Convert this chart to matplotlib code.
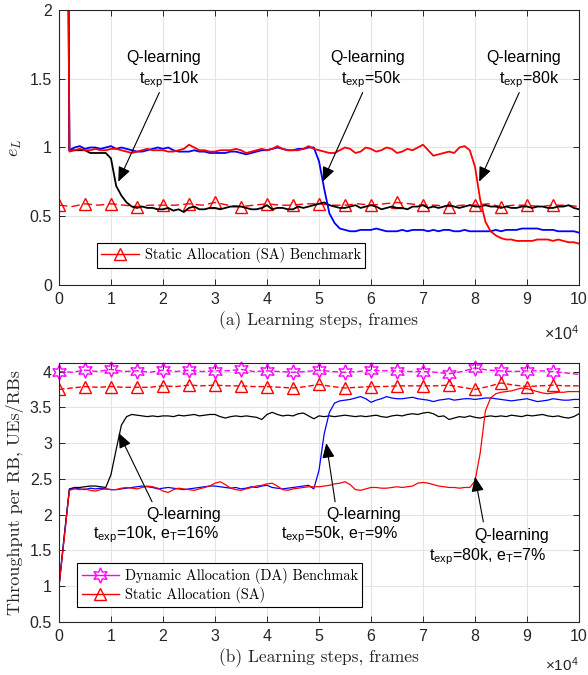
import numpy as np
import matplotlib
matplotlib.use("Agg")
import matplotlib.pyplot as plt
from matplotlib.lines import Line2D

plt.rcParams['font.family'] = ['Liberation Sans', 'DejaVu Sans']
plt.rcParams['mathtext.fontset'] = 'custom'
plt.rcParams['mathtext.rm'] = 'Liberation Sans'
plt.rcParams['mathtext.it'] = 'Liberation Sans:italic'
plt.rcParams['mathtext.bf'] = 'Liberation Sans:bold'

# ---------------- (a) e_L vs learning steps (x in units of 1e4 frames) ----------------
steps_a = np.round(np.arange(1, 101) * 0.1, 1)   # 0.1 ... 10.0

el_q10k = [8.0, 0.98, 0.98, 0.98, 0.98, 0.96, 0.96, 0.96, 0.96, 0.92,
           0.72, 0.65, 0.60, 0.57, 0.56, 0.57, 0.56, 0.56, 0.55, 0.55,
           0.56, 0.54, 0.55, 0.53, 0.56, 0.57, 0.55, 0.55, 0.56, 0.56,
           0.55, 0.56, 0.57, 0.57, 0.57, 0.56, 0.55, 0.55, 0.56, 0.58,
           0.55, 0.56, 0.56, 0.55, 0.55, 0.57, 0.56, 0.57, 0.58, 0.59,
           0.60, 0.58, 0.57, 0.56, 0.56, 0.57, 0.58, 0.56, 0.57, 0.58,
           0.57, 0.55, 0.56, 0.57, 0.56, 0.56, 0.55, 0.57, 0.57, 0.58,
           0.56, 0.57, 0.56, 0.57, 0.58, 0.57, 0.56, 0.57, 0.58, 0.57,
           0.57, 0.58, 0.57, 0.57, 0.56, 0.57, 0.56, 0.56, 0.57, 0.57,
           0.56, 0.57, 0.57, 0.56, 0.56, 0.57, 0.57, 0.58, 0.56, 0.55]

el_q50k = [8.0, 0.98, 1.00, 1.01, 0.99, 1.00, 1.00, 0.99, 1.00, 1.01,
           0.99, 1.00, 0.99, 0.98, 0.97, 0.97, 0.98, 0.99, 1.00, 0.99,
           1.00, 0.98, 0.97, 0.97, 0.97, 0.98, 0.97, 0.97, 0.96, 0.96,
           0.96, 0.96, 0.97, 0.97, 0.96, 0.95, 0.96, 0.97, 0.98, 0.98,
           0.99, 1.00, 0.99, 0.98, 0.98, 0.99, 0.99, 1.00, 1.00, 0.90,
           0.70, 0.52, 0.45, 0.41, 0.40, 0.39, 0.39, 0.40, 0.40, 0.40,
           0.41, 0.40, 0.39, 0.39, 0.39, 0.40, 0.39, 0.40, 0.40, 0.40,
           0.39, 0.40, 0.39, 0.40, 0.40, 0.39, 0.39, 0.40, 0.39, 0.39,
           0.39, 0.39, 0.39, 0.40, 0.39, 0.40, 0.40, 0.40, 0.41, 0.41,
           0.41, 0.41, 0.40, 0.40, 0.40, 0.39, 0.39, 0.39, 0.39, 0.38]

el_q80k = [8.0, 0.97, 0.98, 0.99, 0.98, 0.98, 0.99, 0.98, 0.98, 0.99,
           0.99, 0.98, 0.97, 0.96, 0.97, 0.98, 0.99, 0.98, 0.98, 0.98,
           0.97, 0.97, 0.98, 0.99, 1.02, 1.00, 0.98, 0.98, 0.97, 0.97,
           0.98, 0.98, 0.98, 0.99, 0.98, 0.96, 0.97, 0.98, 0.99, 0.98,
           0.99, 1.01, 0.99, 0.98, 0.98, 0.98, 0.99, 1.01, 0.99, 0.98,
           0.97, 0.96, 0.96, 0.98, 1.00, 0.99, 0.96, 0.97, 1.00, 0.99,
           0.97, 0.98, 1.00, 0.99, 0.96, 0.97, 0.99, 0.98, 1.00, 1.02,
           0.98, 0.94, 0.95, 0.96, 0.97, 0.96, 1.00, 1.01, 0.98, 0.86,
           0.62, 0.46, 0.39, 0.36, 0.34, 0.33, 0.33, 0.32, 0.32, 0.32,
           0.32, 0.33, 0.33, 0.33, 0.32, 0.33, 0.32, 0.31, 0.31, 0.30]

bench_steps = np.arange(0, 41) * 0.25             # 0 ... 10
el_sa = [0.58, 0.57, 0.59, 0.58, 0.59, 0.58, 0.57, 0.58, 0.58, 0.58,
         0.59, 0.58, 0.60, 0.58, 0.57, 0.58, 0.59, 0.58, 0.58, 0.59,
         0.59, 0.58, 0.58, 0.59, 0.58, 0.59, 0.60, 0.59, 0.58, 0.58,
         0.57, 0.58, 0.58, 0.59, 0.57, 0.58, 0.58, 0.57, 0.58, 0.58, 0.57]

# ---------------- (b) throughput per RB ----------------
steps_b = np.round(np.arange(0, 101) * 0.1, 1)    # 0.0 ... 10.0

tp_q10k = [1.00,
           1.70, 2.36, 2.38, 2.38, 2.39, 2.40, 2.40, 2.39, 2.38, 2.56,
           2.91, 3.25, 3.37, 3.40, 3.39, 3.38, 3.37, 3.38, 3.37, 3.38,
           3.38, 3.37, 3.39, 3.38, 3.39, 3.40, 3.38, 3.39, 3.40, 3.40,
           3.37, 3.35, 3.37, 3.38, 3.37, 3.38, 3.37, 3.36, 3.33, 3.40,
           3.43, 3.40, 3.38, 3.39, 3.38, 3.41, 3.42, 3.38, 3.34, 3.38,
           3.37, 3.38, 3.37, 3.38, 3.39, 3.38, 3.37, 3.38, 3.37, 3.38,
           3.39, 3.37, 3.36, 3.38, 3.39, 3.38, 3.40, 3.41, 3.40, 3.42,
           3.43, 3.41, 3.37, 3.38, 3.33, 3.35, 3.37, 3.36, 3.38, 3.36,
           3.35, 3.37, 3.38, 3.37, 3.38, 3.37, 3.39, 3.38, 3.37, 3.39,
           3.38, 3.39, 3.40, 3.38, 3.37, 3.38, 3.36, 3.35, 3.37, 3.41]

tp_q50k = [1.00,
           1.68, 2.35, 2.37, 2.36, 2.35, 2.37, 2.36, 2.37, 2.36, 2.35,
           2.35, 2.36, 2.37, 2.38, 2.39, 2.40, 2.39, 2.38, 2.36, 2.37,
           2.38, 2.37, 2.36, 2.35, 2.36, 2.37, 2.38, 2.39, 2.40, 2.40,
           2.39, 2.38, 2.37, 2.38, 2.36, 2.37, 2.39, 2.38, 2.40, 2.41,
           2.38, 2.37, 2.36, 2.37, 2.38, 2.39, 2.40, 2.41, 2.36, 2.62,
           3.13, 3.43, 3.56, 3.59, 3.60, 3.61, 3.63, 3.65, 3.62, 3.57,
           3.60, 3.62, 3.65, 3.63, 3.62, 3.62, 3.63, 3.64, 3.62, 3.61,
           3.60, 3.58, 3.60, 3.61, 3.62, 3.60, 3.61, 3.62, 3.62, 3.61,
           3.62, 3.63, 3.63, 3.62, 3.61, 3.60, 3.59, 3.60, 3.61, 3.62,
           3.60, 3.58, 3.59, 3.60, 3.62, 3.61, 3.60, 3.60, 3.61, 3.61]

tp_q80k = [1.00,
           1.66, 2.34, 2.36, 2.35, 2.36, 2.34, 2.33, 2.35, 2.36, 2.35,
           2.35, 2.37, 2.38, 2.37, 2.36, 2.38, 2.40, 2.39, 2.37, 2.33,
           2.31, 2.35, 2.37, 2.36, 2.35, 2.34, 2.36, 2.38, 2.40, 2.44,
           2.46, 2.42, 2.37, 2.35, 2.34, 2.36, 2.38, 2.40, 2.41, 2.43,
           2.44, 2.40, 2.35, 2.34, 2.36, 2.37, 2.38, 2.39, 2.39, 2.39,
           2.40, 2.41, 2.43, 2.44, 2.46, 2.42, 2.35, 2.34, 2.36, 2.38,
           2.38, 2.37, 2.37, 2.38, 2.39, 2.38, 2.39, 2.40, 2.44, 2.45,
           2.44, 2.42, 2.40, 2.39, 2.38, 2.38, 2.37, 2.38, 2.38, 2.47,
           2.86, 3.45, 3.63, 3.69, 3.71, 3.72, 3.73, 3.75, 3.77, 3.76,
           3.74, 3.72, 3.70, 3.69, 3.70, 3.71, 3.71, 3.72, 3.72, 3.72]

tp_da = [4.00, 3.99, 4.02, 4.00, 4.03, 4.00, 4.01, 3.99, 4.02, 4.00,
         4.02, 4.00, 4.01, 4.01, 4.03, 4.00, 4.01, 4.00, 3.99, 4.00,
         4.02, 4.00, 3.99, 4.00, 4.02, 4.01, 4.01, 4.00, 4.00, 3.99,
         3.97, 4.00, 4.05, 4.02, 4.01, 4.00, 4.01, 4.01, 4.00, 3.98, 3.96]

tp_sa = [3.75, 3.77, 3.79, 3.78, 3.79, 3.78, 3.78, 3.78, 3.80, 3.79,
         3.81, 3.80, 3.81, 3.80, 3.80, 3.79, 3.79, 3.78, 3.77, 3.79,
         3.82, 3.79, 3.77, 3.78, 3.79, 3.79, 3.80, 3.80, 3.80, 3.80,
         3.81, 3.78, 3.75, 3.79, 3.84, 3.81, 3.79, 3.80, 3.81, 3.80, 3.80]

INK = '#262626'
GRID = '#e3e3e3'
MAG = '#ff00ff'
HEX = (6, 1, 0)
marks = slice(0, 40, 2)

fig = plt.figure(figsize=(5.88, 6.75), dpi=100)
ax1 = fig.add_axes([0.1003, 0.578, 0.8844, 0.407])
ax2 = fig.add_axes([0.1003, 0.0785, 0.8844, 0.3838])


def style_axes(ax):
    ax.set_xlim(0, 10)
    ax.set_xticks(range(0, 11))
    ax.grid(True, color=GRID, linewidth=0.8)
    ax.set_axisbelow(True)
    ax.tick_params(direction='in', top=True, right=True, length=4, width=0.7,
                   colors=INK, labelsize=11.5, pad=5)
    for s in ax.spines.values():
        s.set_color(INK)
        s.set_linewidth(0.8)


def arrow(ax, head, tail):
    ax.annotate('', xy=head, xytext=tail,
                arrowprops=dict(arrowstyle='-|>,head_length=0.9,head_width=0.38',
                                color='k', lw=0.8, shrinkA=0, shrinkB=0))


# ---- panel (a) ----
style_axes(ax1)
ax1.plot(bench_steps, el_sa, color='r', lw=1.0, ls=(0, (6, 3)), marker='^',
         ms=9, mfc='none', mec='r', mew=1.0, markevery=marks)
ax1.plot(steps_a, el_q10k, color='k', lw=1.3)
ax1.plot(steps_a, el_q50k, color='b', lw=1.3)
ax1.plot(steps_a, el_q80k, color='r', lw=1.3)
ax1.set_ylim(0, 2)
ax1.set_yticks([0, 0.5, 1, 1.5, 2])
ax1.set_yticklabels(['0', '0.5', '1', '1.5', '2'])
ax1.set_xlabel('(a) Learning steps, frames', fontfamily='cmr10', fontsize=12.5,
               color=INK, labelpad=3)
ax1.set_ylabel('$e_L$', math_fontfamily='cm', fontsize=13, color=INK, labelpad=4)
ax1.text(1.0, -0.145, r'$\times\mathregular{10^4}$', transform=ax1.transAxes,
         ha='right', va='top', fontsize=11.5, color=INK)

for x1, x2, lab, head, tail in [(2.01, 2.12, '10k', (1.14, 0.751), (1.93, 1.40)),
                                (5.93, 6.0, '50k', (5.07, 0.751), (5.84, 1.40)),
                                (8.93, 9.04, '80k', (8.08, 0.751), (8.85, 1.40))]:
    ax1.text(x1, 1.624, 'Q-learning', ha='center', va='baseline', fontsize=11.5)
    ax1.text(x2, 1.465, r't$_{\mathrm{exp}}$=' + lab, ha='center', va='baseline',
             fontsize=11.5)
    arrow(ax1, head, tail)

h_sa = Line2D([], [], color='r', lw=1.0, marker='^', ms=9, mfc='none', mec='r')
leg1 = ax1.legend([h_sa], ['Static Allocation (SA) Benchmark'], loc='lower left',
                  bbox_to_anchor=(0.073, 0.062), borderaxespad=0, fancybox=False,
                  framealpha=1, edgecolor='k', handlelength=2.6,
                  prop={'family': 'cmr10', 'size': 10.4}, borderpad=0.3,
                  handletextpad=0.4)
leg1.get_frame().set_linewidth(0.8)

# ---- panel (b) ----
style_axes(ax2)
ax2.plot(bench_steps, tp_da, color=MAG, lw=1.0, ls=(0, (4, 2)), marker=HEX,
         ms=11, mfc='none', mec=MAG, mew=1.0, markevery=marks, clip_on=False)
ax2.plot(bench_steps, tp_sa, color='r', lw=1.0, ls=(0, (4, 2)), marker='^',
         ms=9, mfc='none', mec='r', mew=1.0, markevery=marks)
ax2.plot(steps_b, tp_q10k, color='k', lw=0.9)
ax2.plot(steps_b, tp_q50k, color='b', lw=0.9)
ax2.plot(steps_b, tp_q80k, color='r', lw=0.9)
ax2.set_ylim(0.5, 4.12)
ax2.set_yticks([0.5, 1, 1.5, 2, 2.5, 3, 3.5, 4])
ax2.set_yticklabels(['0.5', '1', '1.5', '2', '2.5', '3', '3.5', '4'])
ax2.set_xlabel('(b) Learning steps, frames', fontfamily='cmr10', fontsize=12.5,
               color=INK, labelpad=3)
ax2.set_ylabel('Throughput per RB, UEs/RBs', fontfamily='cmr10', fontsize=13,
               color=INK, labelpad=4)
ax2.text(1.0, -0.128, r'$\times\mathregular{10^4}$', transform=ax2.transAxes,
         ha='right', va='top', fontsize=11, color=INK)

for (qx, qy), (tx, ty), lab, head, tail in [
        ((2.39, 1.934), (1.86, 1.668), r't$_{\mathrm{exp}}$=10k, e$_{\mathrm{T}}$=16%',
         (1.15, 3.14), (1.79, 2.18)),
        ((5.85, 1.934), (5.40, 1.668), r't$_{\mathrm{exp}}$=50k, e$_{\mathrm{T}}$=9%',
         (5.14, 3.00), (5.31, 2.18)),
        ((8.71, 1.644), (8.24, 1.364), r't$_{\mathrm{exp}}$=80k, e$_{\mathrm{T}}$=7%',
         (8.00, 2.53), (8.16, 1.90))]:
    ax2.text(qx, qy, 'Q-learning', ha='center', va='baseline', fontsize=11.5)
    ax2.text(tx, ty, lab, ha='center', va='baseline', fontsize=11.5)
    arrow(ax2, head, tail)

h_da = Line2D([], [], color=MAG, lw=1.0, marker=HEX, ms=11, mfc='none', mec=MAG)
h_sa2 = Line2D([], [], color='r', lw=1.0, marker='^', ms=9, mfc='none', mec='r')
leg2 = ax2.legend([h_da, h_sa2],
                  ['Dynamic Allocation (DA) Benchmak', 'Static Allocation (SA)'],
                  loc='lower left', bbox_to_anchor=(0.035, 0.058), borderaxespad=0,
                  fancybox=False, framealpha=1, edgecolor='k', handlelength=2.6,
                  prop={'family': 'cmr10', 'size': 10.4}, borderpad=0.3,
                  handletextpad=0.4, labelspacing=0.2)
leg2.get_frame().set_linewidth(0.8)

fig.savefig('out.png', dpi=100)
